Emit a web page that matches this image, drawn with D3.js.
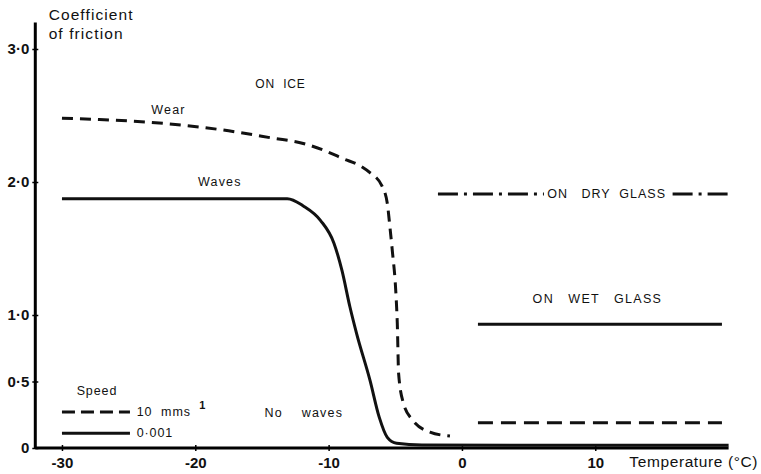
<!DOCTYPE html>
<html>
<head>
<meta charset="utf-8">
<script src="https://cdn.jsdelivr.net/npm/d3@7"></script>
<style>
  body { margin: 0; background: #fff; }
  text { font-family: "Liberation Sans", Arial, sans-serif; fill: #111; }
</style>
</head>
<body>
<svg id="chart" width="761" height="474"></svg>
<script>
var xTicks      = [-30, -20, -10, 0, 10];
var xTickLabels = ["-30", "-20", "-10", "0", "10"];
var yTicks      = [0, 0.5, 1, 2, 3];
var yTickLabels = ["0", "0·5", "1·0", "2·0", "3·0"];

// on ice, 10 mm/s -- the "wear" curve
var wearTemp = [-30, -27.2, -22.3, -17.5, -14.2, -11.9, -10.4, -8.9, -7.6, -6.9, -6.0, -5.6, -5.4, -5.2, -5.0, -4.9, -4.85, -4.75, -4.4, -3.7, -2.4, -0.9];
var wearMu   = [2.48, 2.47, 2.44, 2.385, 2.33, 2.29, 2.24, 2.175, 2.12, 2.07, 1.97, 1.84, 1.66, 1.46, 1.24, 1.06, 0.94, 0.56, 0.34, 0.21, 0.12, 0.09];

// on ice, 0.001 mm/s -- the "waves" curve
var wavesTemp = [-30, -20, -13.1, -11.9, -10.6, -9.6, -9.0, -8.4, -7.9, -6.9, -6.2, -5.6, -4.9, -3.0, 5, 20];
var wavesMu   = [1.875, 1.875, 1.875, 1.82, 1.71, 1.54, 1.335, 1.06, 0.86, 0.51, 0.23, 0.08, 0.035, 0.022, 0.02, 0.02];

// glass
var glassTemp      = [1.2, 19.5];
var wetGlassMu     = [0.93, 0.93];
var glassSlowMu    = [0.19, 0.19];
var dryLeftTemp    = [-1.8, 6.15];
var dryRightTemp   = [15.8, 20.3];
var dryGlassMu     = [1.91, 1.91];

// legend
var legendTemp   = [-30, -24.9];
var legendMu     = [0.27, 0.11];
var legendLabels = ["10  mms", "0·001"];
var legendDash   = ["13,6", null];

var svg = d3.select("#chart");

var x = d3.scaleLinear().domain([-32, 20]).range([35.3, 728.6]);
var y = d3.scaleLinear().domain([0, 3]).range([448, 49]);

var line = d3.line()
  .x(function (d) { return x(d[0]); })
  .y(function (d) { return y(d[1]); })
  .curve(d3.curveMonotoneX);

var straight = d3.line()
  .x(function (d) { return x(d[0]); })
  .y(function (d) { return y(d[1]); });

function zip(a, b) {
  return a.map(function (v, i) { return [v, b[i]]; });
}

// Axes. Ticks cross the axis line, so stretch the tick lines to both sides.
var xAxis = d3.axisBottom(x)
  .tickValues(xTicks)
  .tickSize(3)
  .tickPadding(6)
  .tickFormat(function (d, i) { return xTickLabels[i]; });

var yAxis = d3.axisLeft(y)
  .tickValues(yTicks)
  .tickSize(3)
  .tickPadding(3)
  .tickFormat(function (d, i) { return yTickLabels[i]; });

var gx = svg.append("g").attr("transform", "translate(0," + y(0) + ")").call(xAxis);
var gy = svg.append("g").attr("transform", "translate(" + x(-32) + ",0)").call(yAxis);

gx.select(".domain").attr("d", "M" + x(-32) + ",0H" + x(20)).attr("stroke-width", 3);
gy.select(".domain").attr("d", "M0," + y(0) + "V" + y(3.2)).attr("stroke-width", 3);

gx.selectAll(".tick line").attr("y1", -3).attr("stroke-width", 1.5);
gy.selectAll(".tick line").attr("x1", 3).attr("stroke-width", 1.5);

[gx, gy].forEach(function (g) {
  g.selectAll(".tick text")
    .style("font-family", "'Liberation Sans', Arial, sans-serif")
    .style("font-size", "15px")
    .style("font-weight", "bold")
    .attr("fill", "#111");
});

// Axis titles
var yTitle = svg.append("text")
  .attr("x", x(-31.0))
  .attr("y", 20)
  .style("font-size", "15.5px")
  .style("letter-spacing", "1.1px");
yTitle.append("tspan").text("Coefficient");
yTitle.append("tspan").attr("x", x(-31.0)).attr("dy", 19).text("of  friction");

svg.append("text")
  .attr("x", 758)
  .attr("y", 467)
  .attr("text-anchor", "end")
  .style("font-size", "15.5px")
  .style("letter-spacing", "0.6px")
  .text("Temperature (°C)");

// Curves on ice
svg.append("path")
  .attr("d", line(zip(wearTemp, wearMu)))
  .attr("fill", "none")
  .attr("stroke", "#111")
  .attr("stroke-width", 3)
  .attr("stroke-dasharray", "11,7");

svg.append("path")
  .attr("d", line(zip(wavesTemp, wavesMu)))
  .attr("fill", "none")
  .attr("stroke", "#111")
  .attr("stroke-width", 3);

// Curves on glass
svg.append("path")
  .attr("d", straight(zip(glassTemp, wetGlassMu)))
  .attr("fill", "none")
  .attr("stroke", "#111")
  .attr("stroke-width", 3);

svg.append("path")
  .attr("d", straight(zip(glassTemp, glassSlowMu)))
  .attr("fill", "none")
  .attr("stroke", "#111")
  .attr("stroke-width", 3)
  .attr("stroke-dasharray", "15,8");

[dryLeftTemp, dryRightTemp].forEach(function (temps) {
  svg.append("path")
    .attr("d", straight(zip(temps, dryGlassMu)))
    .attr("fill", "none")
    .attr("stroke", "#111")
    .attr("stroke-width", 3)
    .attr("stroke-dasharray", "20,6,3,6");
});

// Annotations
var notes = [
  { t: -15.5, mu: 2.71, text: "ON  ICE", size: 12, ls: 0.8 },
  { t: -23.3, mu: 2.51, text: "Wear", size: 12.5, ls: 1.2 },
  { t: -19.8, mu: 1.97, text: "Waves", size: 12.5, ls: 1.2 },
  { t: -14.8, mu: 0.23, text: "No    waves", size: 12.5, ls: 1.2 },
  { t: 6.4, mu: 1.88, text: "ON   DRY  GLASS", size: 12.5, ls: 1.0 },
  { t: 5.3, mu: 1.09, text: "ON   WET   GLASS", size: 12.5, ls: 1.3 }
];

svg.selectAll("text.note")
  .data(notes)
  .enter()
  .append("text")
  .attr("class", "note")
  .attr("x", function (d) { return x(d.t); })
  .attr("y", function (d) { return y(d.mu); })
  .attr("xml:space", "preserve")
  .style("font-size", function (d) { return d.size + "px"; })
  .style("letter-spacing", function (d) { return d.ls + "px"; })
  .text(function (d) { return d.text; });

// Legend
svg.append("text")
  .attr("x", x(-28.9))
  .attr("y", y(0.395))
  .style("font-size", "12.5px")
  .style("letter-spacing", "0.9px")
  .text("Speed");

legendMu.forEach(function (mu, i) {
  svg.append("path")
    .attr("d", straight(zip(legendTemp, [mu, mu])))
    .attr("fill", "none")
    .attr("stroke", "#111")
    .attr("stroke-width", 3)
    .attr("stroke-dasharray", legendDash[i]);

  svg.append("text")
    .attr("x", x(-24.4))
    .attr("y", y(mu) + 4)
    .attr("xml:space", "preserve")
    .style("font-size", "12.5px")
    .style("letter-spacing", "0.9px")
    .text(legendLabels[i]);
});

svg.append("text")
  .attr("x", x(-19.7))
  .attr("y", y(legendMu[0]) - 3)
  .style("font-size", "11px")
  .style("font-weight", "bold")
  .text("1");
</script>
</body>
</html>
